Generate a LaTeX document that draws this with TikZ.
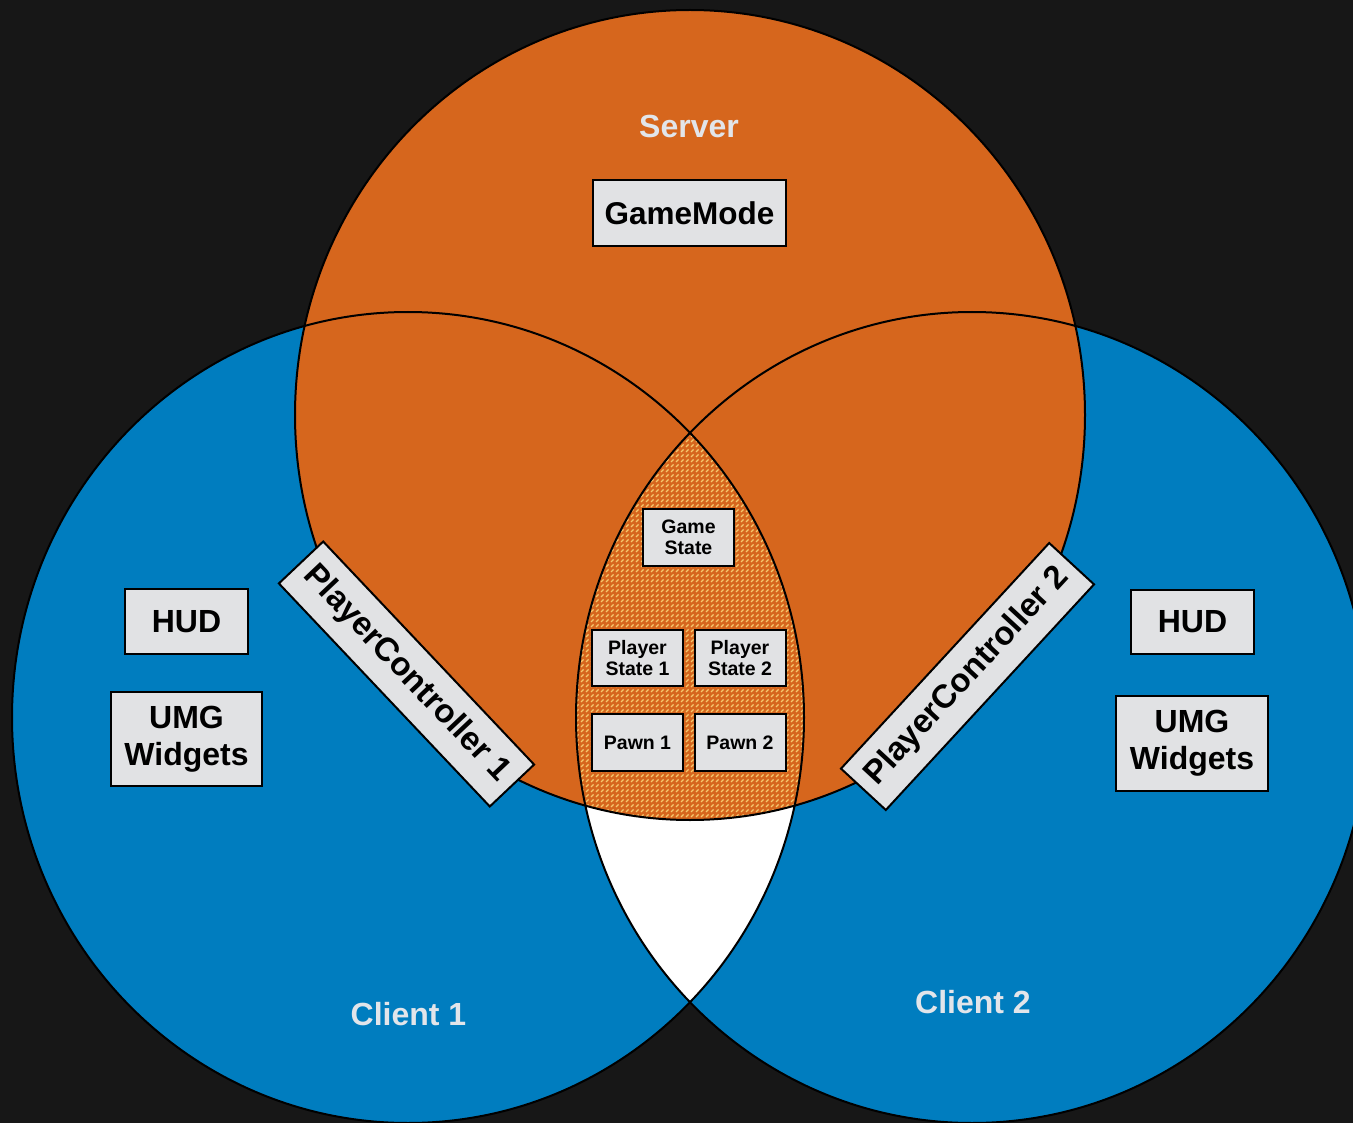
\documentclass[tikz,border=0pt]{standalone}
\usepackage{fontspec}
\setmainfont{Liberation Sans}
\usetikzlibrary{patterns.meta}
\definecolor{bg}{HTML}{171717}
\definecolor{srv}{HTML}{D6661D}
\definecolor{cli}{HTML}{007DBF}
\definecolor{boxg}{HTML}{E1E2E4}
\definecolor{lbl}{HTML}{E2E5EA}
\definecolor{hatchc}{HTML}{F6C86E}
\tikzdeclarepattern{
  name=dashhatch,
  type=uncolored,
  bottom left={(-1pt,-1pt)},
  top right={(6pt,6pt)},
  tile size={(5pt,5pt)},
  code={
    \draw[line width=1.2pt] (1pt,1pt) -- (3.6pt,3.6pt);
  }
}
\begin{document}
\begin{tikzpicture}[x=1pt,y=-1pt,
  ring/.style={draw=black, line width=2pt},
  box/.style={draw=black, line width=2pt, fill=boxg, inner sep=0pt, align=center, text=black,
    font=\bfseries\fontsize{32}{37}\selectfont},
  smallbox/.style={box, minimum width=91pt, minimum height=57pt,
    font=\bfseries\fontsize{19.5}{21}\selectfont},
  pcbox/.style={box, minimum width=307pt, minimum height=61pt,
    font=\bfseries\fontsize{33}{37}\selectfont},
  lab/.style={text=lbl, inner sep=0pt, font=\bfseries\fontsize{32}{37}\selectfont}
]
\useasboundingbox (0,0) rectangle (1353,1123);
\fill[bg] (0,0) rectangle (1353,1123);
\clip (0,0) rectangle (1353,1123);
% circles
\fill[cli] (408,717.5) ellipse [x radius=396pt, y radius=405.5pt];
\fill[cli] (972,717.5) ellipse [x radius=396pt, y radius=405.5pt];
\fill[srv] (690,415) ellipse [x radius=395pt, y radius=405pt];
\begin{scope}
  \clip (408,717.5) ellipse [x radius=396pt, y radius=405.5pt];
  \fill[white] (972,717.5) ellipse [x radius=396pt, y radius=405.5pt];
  \clip (690,415) ellipse [x radius=395pt, y radius=405pt];
  \fill[srv] (972,717.5) ellipse [x radius=396pt, y radius=405.5pt];
  \fill[pattern=dashhatch, pattern color=hatchc] (972,717.5) ellipse [x radius=396pt, y radius=405.5pt];
\end{scope}
\draw[ring] (408,717.5) ellipse [x radius=396pt, y radius=405.5pt];
\draw[ring] (972,717.5) ellipse [x radius=396pt, y radius=405.5pt];
\draw[ring] (690,415) ellipse [x radius=395pt, y radius=405pt];
% labels
\node[lab] (server) at (689,126) {Server};
\node[lab] (client1) at (408.5,1014) {Client 1};
\node[lab] (client2) at (973,1002.5) {Client 2};
% boxes
\node[box, minimum width=193pt, minimum height=66pt, font=\bfseries\fontsize{31.5}{37}\selectfont] (gamemode) at (689.5,213) {GameMode};
\node[box, minimum width=123pt, minimum height=65pt] (hud1) at (186.5,621.5) {HUD};
\node[box, minimum width=151pt, minimum height=94pt] (umg1) at (186.5,739) {UMG\\Widgets};
\node[box, minimum width=123pt, minimum height=64pt] (hud2) at (1192.5,622) {HUD};
\node[box, minimum width=152pt, minimum height=95pt] (umg2) at (1192,743.5) {UMG\\Widgets};
\node[smallbox] (gs) at (688.5,537.5) {Game\\State};
\node[smallbox, minimum height=56pt] (ps1) at (637.5,658) {Player\\State 1};
\node[smallbox, minimum height=56pt] (ps2) at (740,658) {Player\\State 2};
\node[smallbox] (pawn1) at (637.5,742.5) {Pawn 1};
\node[smallbox] (pawn2) at (740,742.5) {Pawn 2};
\node[pcbox, rotate=-46.6] (pc1) at (406.5,674) {PlayerController 1};
\node[pcbox, rotate=47.3] (pc2) at (967.5,676.5) {PlayerController 2};
\end{tikzpicture}
\end{document}
